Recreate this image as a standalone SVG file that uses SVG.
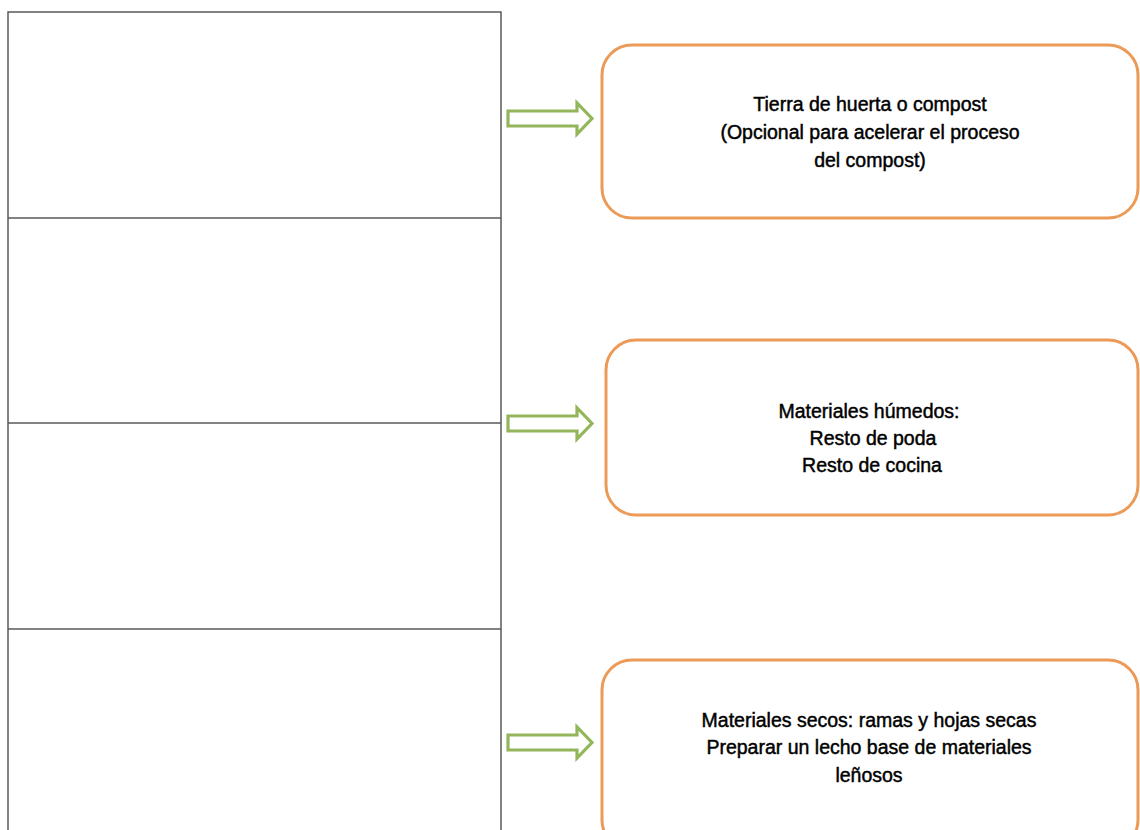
<svg xmlns="http://www.w3.org/2000/svg" width="1140" height="830" viewBox="0 0 1140 830">
<style>
.frame{fill:none;stroke:#595959;stroke-width:1.5}
.box{fill:#fff;stroke:#EB9B57;stroke-width:3}
.arr{fill:#fff;stroke:#93B65A;stroke-width:3.2;stroke-linejoin:miter}
text{font-family:"Liberation Sans",Arial,sans-serif;font-size:19.5px;fill:#000;stroke:#000;stroke-width:0.45;text-anchor:middle}
</style>
<rect width="1140" height="830" fill="#fff"/>
<g id="layers">
<path class="frame" d="M8 840 V12 H501 V840 M8 218 H501 M8 423 H501 M8 629 H501"/>
</g>
<g id="connectors">
<path class="arr" d="M508 111 H577 V103 L592 118.5 L577 134 V126 H508 Z"/>
<path class="arr" d="M508 416 H577 V408 L592 423.5 L577 439 V431 H508 Z"/>
<path class="arr" d="M508 735 H577 V727 L592 742.5 L577 758 V750 H508 Z"/>
</g>
<g id="node1">
<rect class="box" x="602" y="45" width="536" height="173" rx="30"/>
<text x="870" y="111">Tierra de huerta o compost</text>
<text x="870" y="139">(Opcional para acelerar el proceso</text>
<text x="870" y="167">del compost)</text>
</g>
<g id="node2">
<rect class="box" x="606" y="340" width="532" height="175" rx="30"/>
<text x="869" y="418">Materiales húmedos:</text>
<text x="873" y="445">Resto de poda</text>
<text x="872" y="472">Resto de cocina</text>
</g>
<g id="node3">
<rect class="box" x="602" y="660" width="536" height="190" rx="30"/>
<text x="869" y="727">Materiales secos: ramas y hojas secas</text>
<text x="869" y="754">Preparar un lecho base de materiales</text>
<text x="869" y="782">leñosos</text>
</g>
</svg>
